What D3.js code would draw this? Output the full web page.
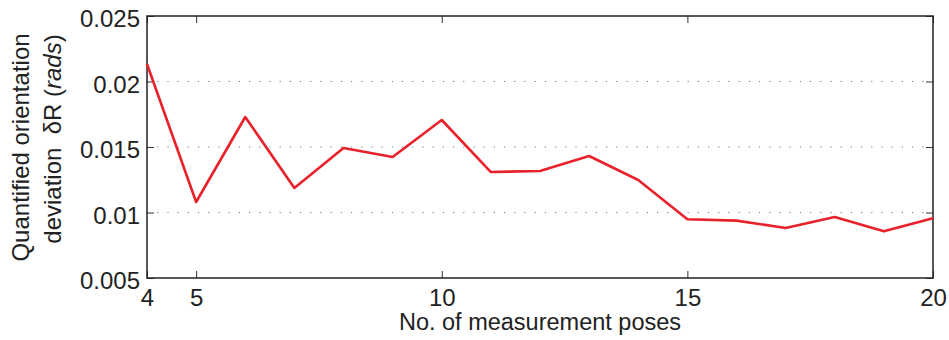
<!DOCTYPE html>
<html>
<head>
<meta charset="utf-8">
<script src="https://cdn.jsdelivr.net/npm/d3@7"></script>
<style>
    body { margin: 0; background: #fff; }
    svg { display: block; font-family: "Liberation Sans", Arial, sans-serif; }
</style>
</head>
<body>
<div id="chart"></div>
<script>
// Data
const poses = [4, 5, 6, 7, 8, 9, 10, 11, 12, 13, 14, 15, 16, 17, 18, 19, 20];
const deviation = [0.02134, 0.0108, 0.01729, 0.01187, 0.01492, 0.01424, 0.01706, 0.01309, 0.01317,
    0.01431, 0.01248, 0.00948, 0.00938, 0.00882, 0.00966, 0.00856, 0.00956];
const xTicks = [4, 5, 10, 15, 20];
const yTicks = [0.005, 0.01, 0.015, 0.02, 0.025];
const yTickLabels = ['0.005', '0.01', '0.015', '0.02', '0.025'];

const W = 949, H = 340;
const margin = { top: 16, right: 16, bottom: 62, left: 147 };
const width = W - margin.left - margin.right;
const height = H - margin.top - margin.bottom;
const fontSize = '24px';

const svg = d3.select('#chart').append('svg')
    .attr('width', W)
    .attr('height', H);

const g = svg.append('g')
    .attr('transform', `translate(${margin.left},${margin.top})`);

const x = d3.scaleLinear().domain([4, 20]).range([0, width]);
const y = d3.scaleLinear().domain([0.005, 0.025]).range([height, 0]);

// Dotted grid (inner lines only)
g.append('g')
    .selectAll('line')
    .data(yTicks.slice(1, -1))
    .join('line')
    .attr('x1', 0)
    .attr('x2', width)
    .attr('y1', d => y(d))
    .attr('y2', d => y(d))
    .attr('stroke', '#777')
    .attr('stroke-width', 1)
    .attr('stroke-dasharray', '1.2,9');

// Inward ticks on all four sides
const tickLen = 7;
g.append('g')
    .attr('transform', `translate(0,${height})`)
    .call(d3.axisBottom(x).tickValues(xTicks).tickSize(-tickLen).tickPadding(11).tickFormat(d3.format('d')))
    .call(a => a.select('.domain').remove());

g.append('g')
    .call(d3.axisTop(x).tickValues(xTicks).tickSize(-tickLen).tickFormat(''))
    .call(a => a.select('.domain').remove());

g.append('g')
    .attr('class', 'y-axis')
    .call(d3.axisLeft(y).tickValues(yTicks).tickSize(-tickLen).tickPadding(7)
        .tickFormat((d, i) => yTickLabels[i]))
    .call(a => a.select('.domain').remove());

g.append('g')
    .attr('transform', `translate(${width},0)`)
    .call(d3.axisRight(y).tickValues(yTicks).tickSize(-tickLen).tickFormat(''))
    .call(a => a.select('.domain').remove());

g.selectAll('.tick line').attr('stroke', '#333').attr('stroke-width', 1);
g.selectAll('.tick text')
    .attr('fill', '#222')
    .style('font-size', fontSize)
    .style('font-family', '"Liberation Sans", Arial, sans-serif');
g.selectAll('.y-axis .tick text').attr('dy', '0.45em');

// Box
g.append('rect')
    .attr('x', 0)
    .attr('y', 0)
    .attr('width', width)
    .attr('height', height)
    .attr('fill', 'none')
    .attr('stroke', '#222')
    .attr('stroke-width', 1.5);

// Series line
const line = d3.line()
    .x((d, i) => x(poses[i]))
    .y(d => y(d));

g.append('path')
    .datum(deviation)
    .attr('fill', 'none')
    .attr('stroke', '#e8212b')
    .attr('stroke-width', 2.6)
    .attr('stroke-linejoin', 'round')
    .attr('d', line);

// X label
svg.append('text')
    .attr('x', margin.left + width / 2)
    .attr('y', 330)
    .attr('text-anchor', 'middle')
    .attr('fill', '#222')
    .style('font-size', '23.5px')
    .text('No. of measurement poses');

// Y label (two lines)
svg.append('text')
    .attr('transform', 'translate(29,147.5) rotate(-90)')
    .attr('text-anchor', 'middle')
    .attr('fill', '#222')
    .style('font-size', fontSize)
    .text('Quantified orientation');

const l2 = svg.append('text')
    .attr('transform', 'translate(61,139) rotate(-90)')
    .attr('text-anchor', 'middle')
    .attr('fill', '#222')
    .style('font-size', fontSize)
    .style('white-space', 'pre');
l2.append('tspan').text('deviation  \u03B4R (');
l2.append('tspan').style('font-style', 'italic').text('rads');
l2.append('tspan').text(')');
</script>
</body>
</html>
